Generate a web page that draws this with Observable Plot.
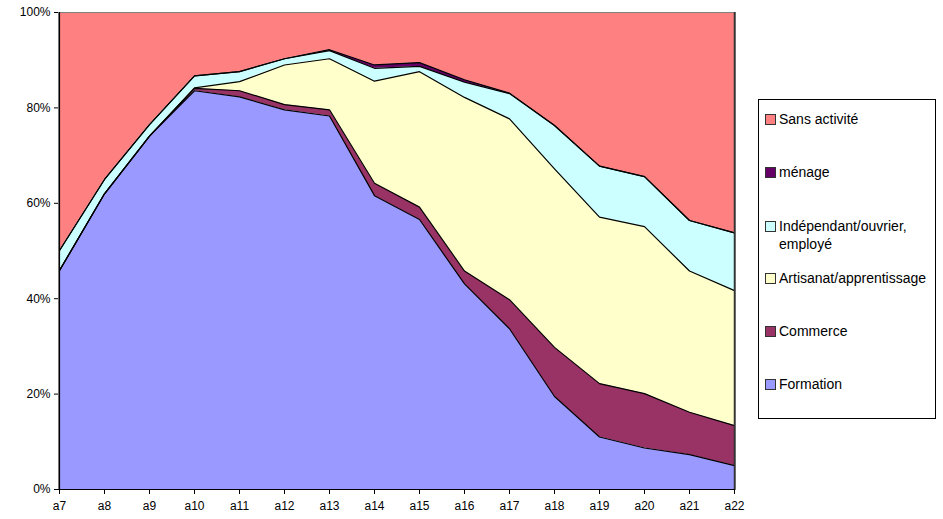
<!DOCTYPE html>
<html>
<head>
<meta charset="utf-8">
<script src="https://cdn.jsdelivr.net/npm/d3@7"></script>
<script src="https://cdn.jsdelivr.net/npm/@observablehq/plot@0.6"></script>
<style>
  html, body { margin: 0; padding: 0; background: white; }
  #wrap { position: relative; width: 943px; height: 519px; font-family: "Liberation Sans", Arial, sans-serif; }
  #legend { position: absolute; left: 758px; top: 99px; width: 178px; height: 320px; border: 1px solid #000; box-sizing: border-box; background: white; }
  .item { position: absolute; left: 6px; display: flex; align-items: flex-start; font-size: 14px; line-height: 16px; color: #000; }
  .sw { width: 9px; height: 9px; border: 1px solid #333; margin-top: 3px; margin-right: 3px; flex: none; }
</style>
</head>
<body>
<div id="wrap"></div>
<script>
const categories = ["a7","a8","a9","a10","a11","a12","a13","a14","a15","a16","a17","a18","a19","a20","a21","a22"];
const formation   = [45.9, 62.0, 74.1, 83.6, 82.3, 79.6, 78.3, 61.6, 56.6, 43.1, 33.7, 19.5, 11.0, 8.7, 7.3, 5.0];
const commerce    = [0, 0, 0, 0.5, 1.3, 1.1, 1.3, 2.6, 2.6, 2.7, 6.1, 10.3, 11.2, 11.4, 8.9, 8.4];
const artisanat   = [0, 0, 0, 0.1, 1.9, 8.3, 10.7, 21.4, 28.4, 36.4, 37.9, 37.4, 34.9, 35.0, 29.6, 28.3];
const independant = [4.2, 3.0, 2.4, 2.5, 2.1, 1.3, 1.7, 2.7, 1.1, 3.2, 5.3, 9.1, 10.7, 10.5, 10.6, 12.1];
const menage      = [0, 0, 0, 0, 0, 0, 0.2, 0.7, 0.8, 0.5, 0.1, 0, 0, 0, 0, 0];
const sansActivite= [49.9, 35.0, 23.5, 13.3, 12.4, 9.7, 7.8, 11.0, 10.5, 14.1, 16.9, 23.7, 32.2, 34.4, 43.6, 46.2];

const seriesNames = ["Formation", "Commerce", "Artisanat/apprentissage", "Indépendant/ouvrier, employé", "ménage", "Sans activité"];
const seriesValues = [formation, commerce, artisanat, independant, menage, sansActivite];
const seriesColors = ["#9999FF", "#993366", "#FFFFCC", "#CCFFFF", "#660066", "#FF8080"];
const yTicks = [0, 20, 40, 60, 80, 100];
const legendOrder = ["Sans activité", "ménage", "Indépendant/ouvrier, employé", "Artisanat/apprentissage", "Commerce", "Formation"];

const data = [];
seriesNames.forEach((s, i) => {
  categories.forEach((c, j) => data.push({x: c, y: seriesValues[i][j], s}));
});
const lineData = data.filter(d => d.s !== "Sans activité");

const chart = Plot.plot({
  width: 943,
  height: 519,
  marginLeft: 58,
  marginRight: 208,
  marginTop: 12,
  marginBottom: 30,
  style: {fontFamily: "'Liberation Sans', Arial, sans-serif", fontSize: "12px", background: "white", color: "#000"},
  x: {type: "point", domain: categories, padding: 0, label: null},
  y: {domain: [0, 100], label: null},
  color: {domain: seriesNames, range: seriesColors},
  marks: [
    Plot.areaY(data, Plot.stackY({x: "x", y: "y", z: "s", order: seriesNames, fill: "s"})),
    Plot.lineY(lineData, Plot.stackY2({x: "x", y: "y", z: "s", order: seriesNames, stroke: "#000", strokeWidth: 1.2})),
    Plot.frame({stroke: "#808080"}),
    Plot.ruleX([categories[categories.length - 1]], {stroke: "#333", strokeWidth: 1.5}),
    Plot.ruleY([0], {stroke: "#000", strokeWidth: 1.2}),
    Plot.ruleX([categories[0]], {stroke: "#000", strokeWidth: 1.2}),
    Plot.axisX({tickSize: 5, tickPadding: 7, fontSize: 12, label: null}),
    Plot.axisY({ticks: yTicks, tickSize: 4, tickPadding: 4, tickFormat: d => d + "%", fontSize: 12, label: null})
  ]
});

const wrap = document.getElementById("wrap");
wrap.appendChild(chart);

const legend = document.createElement("div");
legend.id = "legend";
const tops = [11, 64, 118, 170, 223, 276];
legendOrder.forEach((name, i) => {
  const it = document.createElement("div");
  it.className = "item";
  it.style.top = tops[i] + "px";
  const sw = document.createElement("div");
  sw.className = "sw";
  sw.style.background = seriesColors[seriesNames.indexOf(name)];
  const tx = document.createElement("div");
  tx.textContent = name;
  if (name.startsWith("Indépendant")) { tx.innerHTML = "Indépendant/ouvrier,<br>employé"; tx.style.lineHeight = "18px"; tx.style.marginTop = "-1px"; }
  it.appendChild(sw);
  it.appendChild(tx);
  legend.appendChild(it);
});
wrap.appendChild(legend);
</script>
</body>
</html>
